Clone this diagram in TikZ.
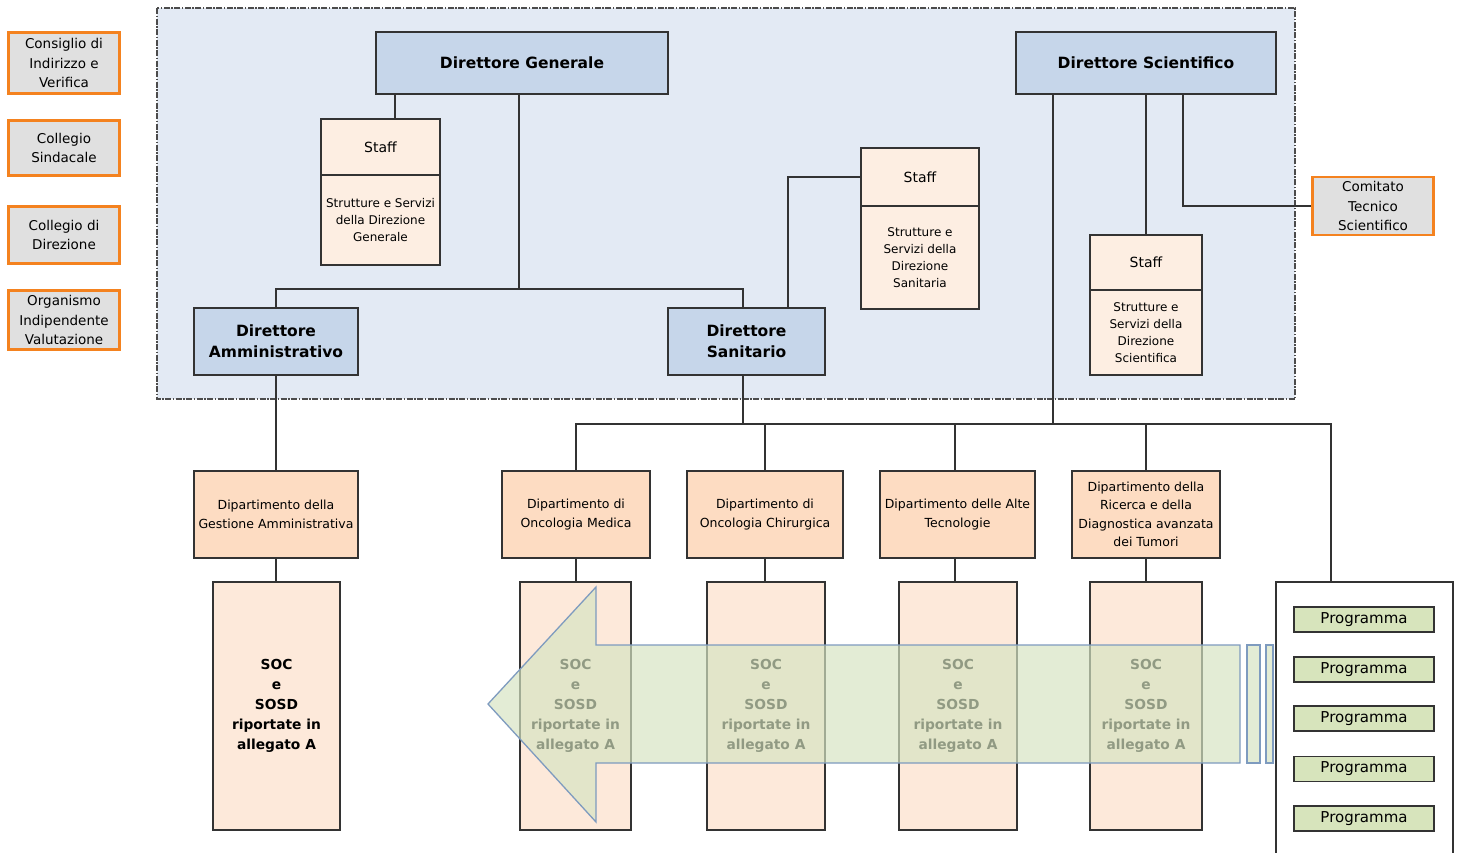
\documentclass[tikz,border=0pt]{standalone}
\usepackage{fontspec}
\setmainfont{DejaVu Sans}
\definecolor{cornice}{HTML}{E3EAF4}
\definecolor{dirblu}{HTML}{C6D6EA}
\definecolor{staffrosa}{HTML}{FDEEE2}
\definecolor{diprosa}{HTML}{FDDCC2}
\definecolor{socrosa}{HTML}{FDE9DA}
\definecolor{orggrigio}{HTML}{E0E0E0}
\definecolor{orgarancio}{HTML}{F4821F}
\definecolor{progverde}{HTML}{D7E4BC}
\definecolor{frecciaverde}{HTML}{D6E4C2}
\definecolor{frecciablu}{HTML}{7E9BBF}
\tikzset{
  base/.style={draw=black!80,line width=1.3pt,inner sep=1pt,align=center},
  organo/.style={base,draw=orgarancio,line width=2.4pt,fill=orggrigio,font=\fontsize{13.5}{19.5}\selectfont},
  direttore/.style={base,fill=dirblu,font=\bfseries\fontsize{15.5}{21}\selectfont},
  staff/.style={base,fill=staffrosa,font=\fontsize{14}{17}\selectfont},
  struttura/.style={base,fill=staffrosa,font=\fontsize{12}{17}\selectfont},
  dipartimento/.style={base,fill=diprosa,font=\fontsize{12.5}{18.5}\selectfont,minimum height=87pt},
  soc/.style={base,fill=socrosa,font=\bfseries\fontsize{13.8}{20}\selectfont,minimum height=248pt},
  programma/.style={base,fill=progverde,font=\fontsize{15}{18}\selectfont,minimum width=140pt,minimum height=25pt},
  freccia/.style={draw=frecciablu,line width=1.3pt,fill=frecciaverde,fill opacity=0.68},
  linea/.style={draw=black!80,line width=1.3pt}
}
\begin{document}
\begin{tikzpicture}[x=1pt,y=-1pt]
\useasboundingbox[fill=white] (0,0) rectangle (1460,852);
\draw[fill=cornice,draw=black!70,line width=1.3pt,dash pattern=on 6pt off 1.5pt on 1.5pt off 1.5pt] (157,8) rectangle (1295,399);

\node[organo,minimum width=111pt,minimum height=61pt] (civ) at (64,63) {Consiglio di\\Indirizzo e\\Verifica};
\node[organo,minimum width=111pt,minimum height=55pt] (cs) at (64,148) {Collegio\\Sindacale};
\node[organo,minimum width=111pt,minimum height=57pt] (cd) at (64,235) {Collegio di\\Direzione};
\node[organo,minimum width=111pt,minimum height=59pt] (oiv) at (64,320) {Organismo\\Indipendente\\Valutazione};
\node[organo,minimum width=121pt,minimum height=58pt] (cts) at (1373,206) {Comitato\\Tecnico\\Scientifico};

\node[direttore,minimum width=292pt,minimum height=62pt] (dg) at (522,63) {Direttore Generale};
\node[direttore,minimum width=260pt,minimum height=62pt] (dsc) at (1146,63) {Direttore Scientifico};
\node[direttore,minimum width=164pt,minimum height=67pt] (da) at (276,341.5) {Direttore\\Amministrativo};
\node[direttore,minimum width=157pt,minimum height=67pt] (dsa) at (746.5,341.5) {Direttore\\Sanitario};

\node[staff,minimum width=119pt,minimum height=56pt] (sdg) at (380.5,147) {Staff};
\node[struttura,minimum width=119pt,minimum height=90pt] (tdg) at (380.5,220) {Strutture e Servizi\\della Direzione\\Generale};
\node[staff,minimum width=118pt,minimum height=58pt] (ssa) at (920,177) {Staff};
\node[struttura,minimum width=118pt,minimum height=103pt] (tsa) at (920,257.5) {Strutture e\\Servizi della\\Direzione\\Sanitaria};
\node[staff,minimum width=112pt,minimum height=55pt] (ssc) at (1146,262.5) {Staff};
\node[struttura,minimum width=112pt,minimum height=85pt] (tsc) at (1146,332.5) {Strutture e\\Servizi della\\Direzione\\Scientifica};

\node[dipartimento,minimum width=164pt] (gest) at (276,514.5) {Dipartimento della\\Gestione Amministrativa};
\node[dipartimento,minimum width=148pt] (onmed) at (576,514.5) {Dipartimento di\\Oncologia Medica};
\node[dipartimento,minimum width=156pt] (onchi) at (765,514.5) {Dipartimento di\\Oncologia Chirurgica};
\node[dipartimento,minimum width=155pt] (alte) at (957.5,514.5) {Dipartimento delle Alte\\Tecnologie};
\node[dipartimento,minimum width=148pt] (ric) at (1146,514.5) {Dipartimento della\\Ricerca e della\\Diagnostica avanzata\\dei Tumori};

\node[soc,minimum width=127pt] (soc1) at (276.5,706) {SOC\\e\\SOSD\\riportate in\\allegato A};
\node[soc,minimum width=111pt] (soc2) at (575.5,706) {SOC\\e\\SOSD\\riportate in\\allegato A};
\node[soc,minimum width=118pt] (soc3) at (766,706) {SOC\\e\\SOSD\\riportate in\\allegato A};
\node[soc,minimum width=118pt] (soc4) at (958,706) {SOC\\e\\SOSD\\riportate in\\allegato A};
\node[soc,minimum width=112pt] (soc5) at (1146,706) {SOC\\e\\SOSD\\riportate in\\allegato A};

\draw[linea] (1276,870) -- (1276,582) -- (1453,582) -- (1453,870);
\coordinate (progtop) at (1331,582);
\foreach \y [count=\i] in {619.5,669.5,718.5,769,818.5}
  \node[programma] (prog\i) at (1364,\y) {Programma};

\coordinate (busg) at (519,289);
\coordinate (busl) at (576,424);
\coordinate (busd) at (1053,424);
\draw[linea] (dg.south -| 395,0) -- (sdg.north -| 395,0);
\draw[linea] (dg.south -| busg) -- (busg);
\draw[linea] (da.north) |- (busg) -| ([xshift=-3.5pt]dsa.north);
\draw[linea] ([xshift=41.5pt]dsa.north) |- (ssa.west);
\draw[linea] (dsc.south -| busd) -- (busd);
\draw[linea] (dsc.south) -- (ssc.north);
\draw[linea] ([xshift=37pt]dsc.south) |- (cts.west);
\draw[linea] (da.south) -- (gest.north);
\draw[linea] ([xshift=-3.5pt]dsa.south) -- ([xshift=-3.5pt]dsa.south |- busl);
\draw[linea] (onmed.north) -- (busl) -| (progtop);
\foreach \d/\dx in {onchi/0,alte/-2.5,ric/0}
  \draw[linea] ([xshift=\dx pt]\d.north) -- ([xshift=\dx pt]\d.north |- busl);
\foreach \d/\s/\dx in {gest/soc1/0,onmed/soc2/0,onchi/soc3/0,alte/soc4/-2.5,ric/soc5/0}
  \draw[linea] ([xshift=\dx pt]\d.south) -- ([xshift=\dx pt]\d.south |- \s.north);

\draw[freccia] (488,704) -- (596,587) -- (596,645) -- (1240,645) -- (1240,763) -- (596,763) -- (596,822) -- cycle;
\draw[freccia] (1247,645) rectangle (1260,763);
\draw[freccia] (1266,645) rectangle (1273,763);
\end{tikzpicture}
\end{document}
